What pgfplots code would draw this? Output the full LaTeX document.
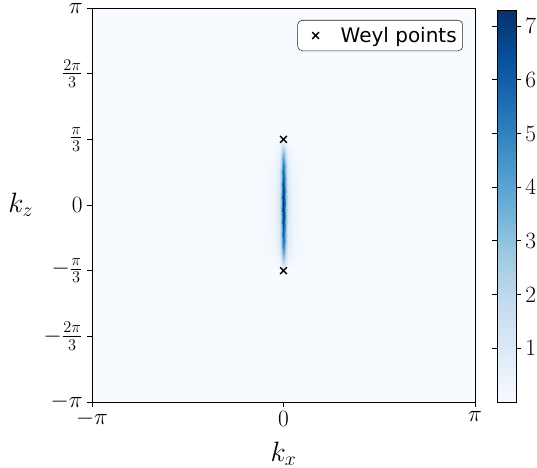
\RequirePackage{fix-cm}
\documentclass[border=0pt]{standalone}
\usepackage{fontspec}
\newfontfamily\dejavu{DejaVu Sans}
\usepackage{pgfplots}
\pgfplotsset{compat=1.18}
\definecolor{bgblue}{RGB}{247,251,255}

\begin{document}
\begin{tikzpicture}
% page size = reference proportions (1px = 0.75pt)
\useasboundingbox (-69pt,-49.5pt) rectangle (333.75pt,301.5pt);
\begin{axis}[
at={(0pt,0pt)}, anchor=south west,
scale only axis,
width=287.25pt, height=295.5pt,
xmin=-3.14159, xmax=3.14159,
ymin=-3.14159, ymax=3.14159,
xtick={-3.14159,0,3.14159},
xticklabels={$-\pi$,$0$,$\pi$},
ytick={-3.14159,-2.0944,-1.0472,0,1.0472,2.0944,3.14159},
yticklabels={$-\pi$,$-\frac{2\pi}{3}$,$-\frac{\pi}{3}$,$0$,$\frac{\pi}{3}$,$\frac{2\pi}{3}$,$\pi$},
tick align=outside,
xtick pos=left, ytick pos=left,
major tick length=3.5pt,
tick style={black, line width=0.6pt},
axis line style={line width=0.6pt},
ticklabel style={font=\fontsize{17.5}{20}\selectfont},
xlabel={$k_x$}, ylabel={$k_z$},
every axis x label/.style={at={(axis description cs:0.5,0)}, anchor=north, inner sep=0pt, yshift=-30pt, font=\fontsize{21}{24}\selectfont},
every axis y label/.style={at={(axis description cs:0,0.5)}, anchor=east, inner sep=0pt, xshift=-44pt, font=\fontsize{21}{24}\selectfont},
axis background/.style={fill=bgblue},
axis on top,
colormap={blues}{rgb255=(247,251,255) rgb255=(222,235,247) rgb255=(198,219,239) rgb255=(158,202,225) rgb255=(107,174,214) rgb255=(66,146,198) rgb255=(33,113,181) rgb255=(8,81,156) rgb255=(8,48,107)},
point meta min=0, point meta max=7.3,
colorbar,
colorbar style={
  width=14.25pt, height=294pt,
  at={(parent axis.north east)}, anchor=north west,
  xshift=8pt, yshift=-1.5pt,
  ytick={1,2,3,4,5,6,7},
  tick align=outside,
  major tick length=3.5pt,
  tick style={black, line width=0.6pt},
  axis line style={line width=0.6pt},
  yticklabel style={font=\fontsize{17.5}{20}\selectfont},
},
legend style={at={(1,1)}, anchor=north east, xshift=-9pt, yshift=-9pt,
  draw=black!85, rounded corners=3.5pt, inner xsep=4.5pt, inner ysep=5pt,
  nodes={inner sep=0pt},
  font=\dejavu\fontsize{15}{18}\selectfont},
]

\addplot[surf, shader=interp, mesh/cols=13, point meta=explicit, forget plot]
table[x=x, y=y, meta=c]{
x y c
-0.6 -1.25 0
-0.3 -1.25 0
-0.15 -1.25 0
-0.08 -1.25 0
-0.04 -1.25 0
-0.02 -1.25 0
0 -1.25 0
0.02 -1.25 0
0.04 -1.25 0
0.08 -1.25 0
0.15 -1.25 0
0.3 -1.25 0
0.6 -1.25 0
-0.6 -1.0472 0
-0.3 -1.0472 0.003
-0.15 -1.0472 0.0075
-0.08 -1.0472 0.0225
-0.04 -1.0472 0.06
-0.02 -1.0472 0.105
0 -1.0472 0.15
0.02 -1.0472 0.105
0.04 -1.0472 0.06
0.08 -1.0472 0.0225
0.15 -1.0472 0.0075
0.3 -1.0472 0.003
0.6 -1.0472 0
-0.6 -1.0 0
-0.3 -1.0 0.014
-0.15 -1.0 0.035
-0.08 -1.0 0.105
-0.04 -1.0 0.28
-0.02 -1.0 0.49
0 -1.0 0.7
0.02 -1.0 0.49
0.04 -1.0 0.28
0.08 -1.0 0.105
0.15 -1.0 0.035
0.3 -1.0 0.014
0.6 -1.0 0
-0.6 -0.9 0
-0.3 -0.9 0.046
-0.15 -0.9 0.115
-0.08 -0.9 0.345
-0.04 -0.9 0.92
-0.02 -0.9 1.61
0 -0.9 2.3
0.02 -0.9 1.61
0.04 -0.9 0.92
0.08 -0.9 0.345
0.15 -0.9 0.115
0.3 -0.9 0.046
0.6 -0.9 0
-0.6 -0.8 0
-0.3 -0.8 0.072
-0.15 -0.8 0.18
-0.08 -0.8 0.54
-0.04 -0.8 1.44
-0.02 -0.8 2.52
0 -0.8 3.6
0.02 -0.8 2.52
0.04 -0.8 1.44
0.08 -0.8 0.54
0.15 -0.8 0.18
0.3 -0.8 0.072
0.6 -0.8 0
-0.6 -0.6 0
-0.3 -0.6 0.108
-0.15 -0.6 0.27
-0.08 -0.6 0.81
-0.04 -0.6 2.16
-0.02 -0.6 3.78
0 -0.6 5.4
0.02 -0.6 3.78
0.04 -0.6 2.16
0.08 -0.6 0.81
0.15 -0.6 0.27
0.3 -0.6 0.108
0.6 -0.6 0
-0.6 -0.4 0
-0.3 -0.4 0.124
-0.15 -0.4 0.31
-0.08 -0.4 0.93
-0.04 -0.4 2.48
-0.02 -0.4 4.34
0 -0.4 6.2
0.02 -0.4 4.34
0.04 -0.4 2.48
0.08 -0.4 0.93
0.15 -0.4 0.31
0.3 -0.4 0.124
0.6 -0.4 0
-0.6 -0.2 0
-0.3 -0.2 0.14
-0.15 -0.2 0.35
-0.08 -0.2 1.05
-0.04 -0.2 2.8
-0.02 -0.2 4.9
0 -0.2 7.0
0.02 -0.2 4.9
0.04 -0.2 2.8
0.08 -0.2 1.05
0.15 -0.2 0.35
0.3 -0.2 0.14
0.6 -0.2 0
-0.6 0 0
-0.3 0 0.146
-0.15 0 0.365
-0.08 0 1.095
-0.04 0 2.92
-0.02 0 5.11
0 0 7.3
0.02 0 5.11
0.04 0 2.92
0.08 0 1.095
0.15 0 0.365
0.3 0 0.146
0.6 0 0
-0.6 0.2 0
-0.3 0.2 0.14
-0.15 0.2 0.35
-0.08 0.2 1.05
-0.04 0.2 2.8
-0.02 0.2 4.9
0 0.2 7.0
0.02 0.2 4.9
0.04 0.2 2.8
0.08 0.2 1.05
0.15 0.2 0.35
0.3 0.2 0.14
0.6 0.2 0
-0.6 0.4 0
-0.3 0.4 0.124
-0.15 0.4 0.31
-0.08 0.4 0.93
-0.04 0.4 2.48
-0.02 0.4 4.34
0 0.4 6.2
0.02 0.4 4.34
0.04 0.4 2.48
0.08 0.4 0.93
0.15 0.4 0.31
0.3 0.4 0.124
0.6 0.4 0
-0.6 0.6 0
-0.3 0.6 0.108
-0.15 0.6 0.27
-0.08 0.6 0.81
-0.04 0.6 2.16
-0.02 0.6 3.78
0 0.6 5.4
0.02 0.6 3.78
0.04 0.6 2.16
0.08 0.6 0.81
0.15 0.6 0.27
0.3 0.6 0.108
0.6 0.6 0
-0.6 0.8 0
-0.3 0.8 0.072
-0.15 0.8 0.18
-0.08 0.8 0.54
-0.04 0.8 1.44
-0.02 0.8 2.52
0 0.8 3.6
0.02 0.8 2.52
0.04 0.8 1.44
0.08 0.8 0.54
0.15 0.8 0.18
0.3 0.8 0.072
0.6 0.8 0
-0.6 0.9 0
-0.3 0.9 0.046
-0.15 0.9 0.115
-0.08 0.9 0.345
-0.04 0.9 0.92
-0.02 0.9 1.61
0 0.9 2.3
0.02 0.9 1.61
0.04 0.9 0.92
0.08 0.9 0.345
0.15 0.9 0.115
0.3 0.9 0.046
0.6 0.9 0
-0.6 1.0 0
-0.3 1.0 0.014
-0.15 1.0 0.035
-0.08 1.0 0.105
-0.04 1.0 0.28
-0.02 1.0 0.49
0 1.0 0.7
0.02 1.0 0.49
0.04 1.0 0.28
0.08 1.0 0.105
0.15 1.0 0.035
0.3 1.0 0.014
0.6 1.0 0
-0.6 1.0472 0
-0.3 1.0472 0.003
-0.15 1.0472 0.0075
-0.08 1.0472 0.0225
-0.04 1.0472 0.06
-0.02 1.0472 0.105
0 1.0472 0.15
0.02 1.0472 0.105
0.04 1.0472 0.06
0.08 1.0472 0.0225
0.15 1.0472 0.0075
0.3 1.0472 0.003
0.6 1.0472 0
-0.6 1.25 0
-0.3 1.25 0
-0.15 1.25 0
-0.08 1.25 0
-0.04 1.25 0
-0.02 1.25 0
0 1.25 0
0.02 1.25 0
0.04 1.25 0
0.08 1.25 0
0.15 1.25 0
0.3 1.25 0
0.6 1.25 0
};

\addplot[only marks, mark=x, mark size=3.6pt, black, line width=1pt,
  legend image code/.code={\path[draw=none, fill=none] (0pt,-4pt) rectangle (27.75pt,4pt);
    \draw[black, line width=1pt, mark=x, mark size=3.6pt, rounded corners=0pt] plot coordinates {(9pt,0pt)};}]
coordinates {(0,1.0472) (0,-1.0472)};
\addlegendentry{Weyl points}

\end{axis}
\end{tikzpicture}
\end{document}
